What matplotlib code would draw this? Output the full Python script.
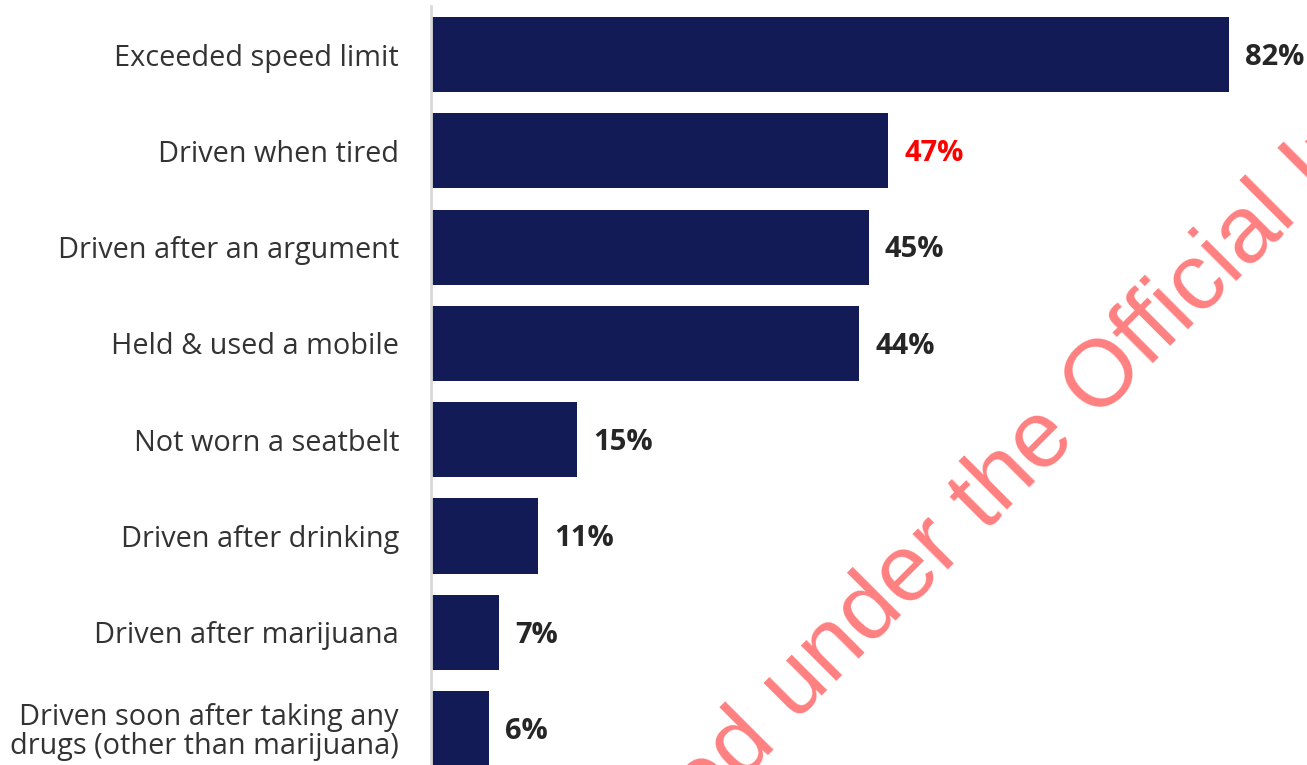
import matplotlib
matplotlib.use("Agg")
import matplotlib.pyplot as plt

categories = [
    "Exceeded speed limit",
    "Driven when tired",
    "Driven after an argument",
    "Held & used a mobile",
    "Not worn a seatbelt",
    "Driven after drinking",
    "Driven after marijuana",
    "Driven soon after taking any\ndrugs (other than marijuana)",
]
values = [82, 47, 45, 44, 15, 11, 7, 6]
highlight = "Driven when tired"

bar_color = "#131b57"
label_font = "Open Sans"

fig = plt.figure(figsize=(13.07, 7.65), dpi=100)
ax = fig.add_axes([431 / 1307, 0, 1 - 431 / 1307, 1 - 6 / 765])

ypos = list(range(len(categories)))
ax.barh(ypos, values, height=0.78, color=bar_color)

for y, v, c in zip(ypos, values, categories):
    col = "#ff0000" if c == highlight else "#262626"
    ax.annotate(f"{v}%", (v, y), xytext=(11.5, -2), textcoords="offset points",
                ha="left", va="center", fontsize=21, fontweight="bold",
                color=col, family=label_font)

ax.set_xlim(0, 90)
ax.set_ylim(7.378, -0.504)
ax.set_yticks(ypos)
ax.set_yticklabels(categories, fontsize=20.8, color="#333333", family=label_font,
                   linespacing=1.0)
ax.tick_params(axis="y", length=0, pad=23)
ax.set_xticks([])
for s in ["top", "right", "bottom"]:
    ax.spines[s].set_visible(False)
ax.spines["left"].set_color("#d9d9d9")
ax.spines["left"].set_linewidth(2)

# watermark
wm = dict(rotation=45, rotation_mode="anchor", fontsize=68, color="#ff8080",
          family="Liberation Sans", va="baseline", zorder=10)
fig.text(795 / 1307, 1 - 722 / 765, "under the Official Information Act", ha="left", **wm)
fig.text(777 / 1307, 1 - 740 / 765, "Released", ha="right", **wm)

fig.savefig("out.png", dpi=100)
